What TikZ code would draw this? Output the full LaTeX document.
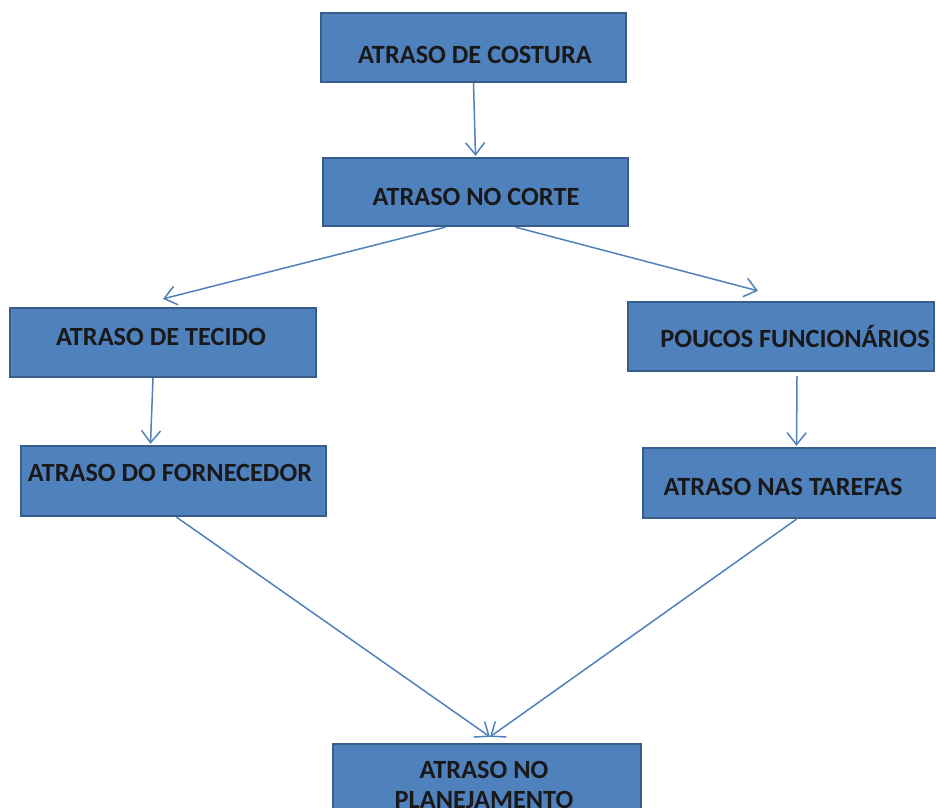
\documentclass[tikz,border=0pt]{standalone}
\usepackage{fontspec}
\setmainfont{Carlito}
\usetikzlibrary{arrows.meta}
\definecolor{boxfill}{HTML}{4F81BD}
\definecolor{boxline}{HTML}{385D8A}
\definecolor{arrowcol}{HTML}{4F81BD}
\tikzset{
  box/.style={draw=boxline, fill=boxfill, line width=2.3pt, rectangle, inner sep=0pt},
  lbl/.style={font=\fontsize{26.3}{30}\selectfont\bfseries, text=black!90, inner sep=0pt, align=center},
  conn/.style={draw=arrowcol, line width=1.5pt, -{Straight Barb[length=12pt,width=19pt,line width=1.5pt]}}
}
\begin{document}
\begin{tikzpicture}[x=1pt,y=-1pt]
\useasboundingbox (0,0) rectangle (936,807);
\clip (0,0) rectangle (936,807);
\fill[white] (0,0) rectangle (936,807);
% boxes
\node[box, minimum width=305pt, minimum height=69pt] (b1) at (473.5,47.5) {};
\node[box, minimum width=305pt, minimum height=68pt] (b2) at (475.5,192) {};
\node[box, minimum width=306pt, minimum height=69pt] (b3) at (163,342.5) {};
\node[box, minimum width=306pt, minimum height=69pt] (b4) at (781,336.5) {};
\node[box, minimum width=305pt, minimum height=70pt] (b5) at (173.5,481) {};
\node[box, minimum width=307pt, minimum height=70pt] (b6) at (796.5,483) {};
\node[box, minimum width=308pt, minimum height=84pt] (b7) at (487,786) {};
% labels
\node[lbl] (t1) at (475,55) {ATRASO DE COSTURA};
\node[lbl] (t2) at (476,197) {ATRASO NO CORTE};
\node[lbl] (t3) at (161,337) {ATRASO DE TECIDO};
\node[lbl] (t4) at (795,337) {POUCOS FUNCIONÁRIOS};
\node[lbl] (t5) at (170,473) {ATRASO DO FORNECEDOR};
\node[lbl] (t6) at (783,487) {ATRASO NAS TAREFAS};
\node[lbl] (t7) at (484,785) {ATRASO NO\\PLANEJAMENTO};
% connectors
\draw[conn] (b1.south) -- ([yshift=1pt]b2.north);
\draw[conn] ([xshift=-30pt]b2.south) -- ([yshift=8pt]b3.north);
\draw[conn] ([xshift=40pt]b2.south) -- ([xshift=-23pt,yshift=10pt]b4.north);
\draw[conn] ([xshift=-10pt]b3.south) -- ([xshift=-23pt,yshift=1pt]b5.north);
\draw[conn] ([xshift=16pt,yshift=-4pt]b4.south) -- ([yshift=1pt]b6.north);
\draw[conn] ([xshift=3pt]b5.south) -- ([xshift=3pt,yshift=6pt]b7.north);
\draw[conn] ([xshift=0pt]b6.south) -- ([xshift=3pt,yshift=6pt]b7.north);
\end{tikzpicture}
\end{document}
